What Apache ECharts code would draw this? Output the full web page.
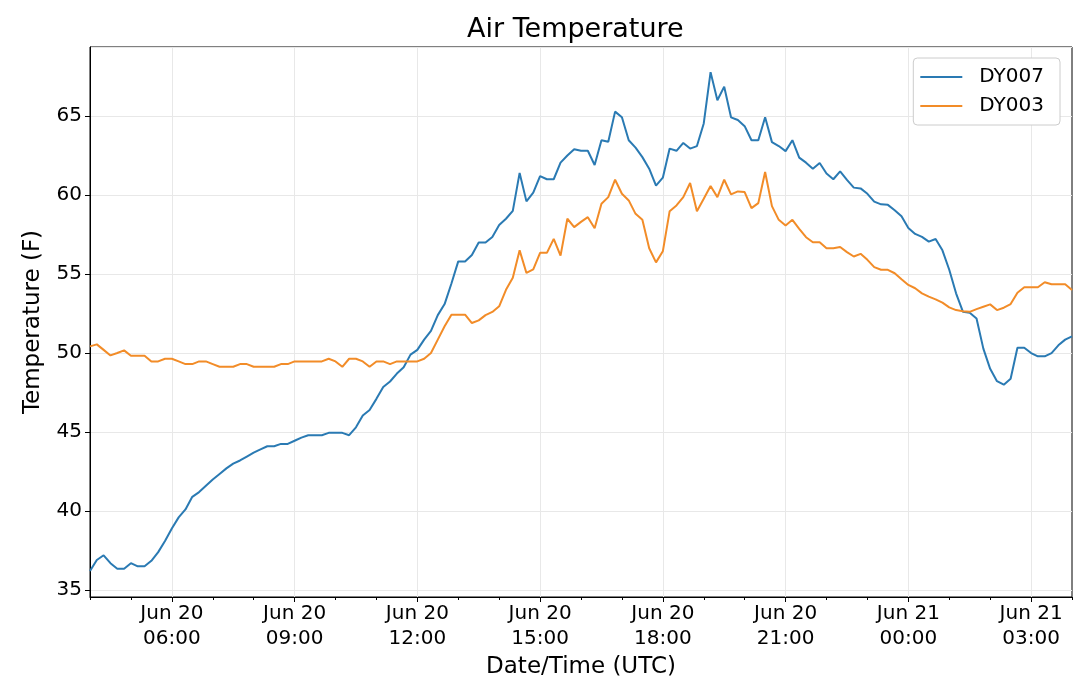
<!DOCTYPE html>
<html lang="en">
<head>
    <meta charset="UTF-8">
    <title>Air Temperature</title>
    <script src="https://cdn.jsdelivr.net/npm/echarts@6/dist/echarts.min.js"></script>
    <style>
      html, body { margin: 0; padding: 0; background: #fff; }
      #main { width: 1080px; height: 693px; }
    </style>
</head>
<body>
    <div id="main"></div>
    <script type="text/javascript">
      // 10-minute readings, Jun 20 04:00 -> Jun 21 04:00 (UTC)
      var dy007 = [
        36.2, 36.9, 37.2, 36.7, 36.35, 36.35, 36.7, 36.5, 36.5, 36.85,
        37.4, 38.1, 38.9, 39.6, 40.1, 40.9, 41.2, 41.6, 42.0, 42.35,
        42.7, 43.0, 43.2, 43.45, 43.7, 43.9, 44.1, 44.1, 44.25, 44.25,
        44.45, 44.65, 44.8, 44.8, 44.8, 44.95, 44.95, 44.95, 44.8, 45.3,
        46.05, 46.4, 47.1, 47.85, 48.2, 48.7, 49.1, 49.9, 50.2, 50.85,
        51.4, 52.4, 53.1, 54.4, 55.8, 55.8, 56.2, 57.0, 57.0, 57.35,
        58.1, 58.5, 59.0, 61.4, 59.6, 60.15, 61.2, 61.0, 61.0, 62.05,
        62.5, 62.9, 62.8, 62.8, 61.9, 63.47, 63.37, 65.28, 64.92, 63.47,
        63.0, 62.4, 61.67, 60.6, 61.1, 62.94, 62.8, 63.3, 62.94, 63.1,
        64.53, 67.78, 66.0, 66.86, 64.92, 64.75, 64.36, 63.47, 63.47, 64.92,
        63.35, 63.1, 62.78, 63.47, 62.37, 62.05, 61.67, 62.03, 61.36, 61.0,
        61.5, 60.96, 60.47, 60.42, 60.08, 59.58, 59.41, 59.38, 59.04, 58.66,
        57.92, 57.54, 57.35, 57.05, 57.22, 56.5, 55.27, 53.78, 52.62, 52.55,
        52.19, 50.28, 49.0, 48.22, 48.0, 48.37, 50.34, 50.34, 50.0, 49.79,
        49.79, 50.0, 50.49, 50.85, 51.06
      ];
      var dy003 = [
        50.42, 50.55, 50.2, 49.85, 50.0, 50.17, 49.83, 49.83, 49.83, 49.47,
        49.47, 49.64, 49.64, 49.47, 49.3, 49.3, 49.47, 49.47, 49.3, 49.13,
        49.13, 49.13, 49.3, 49.3, 49.13, 49.13, 49.13, 49.13, 49.3, 49.3,
        49.47, 49.47, 49.47, 49.47, 49.47, 49.64, 49.47, 49.13, 49.64, 49.64,
        49.47, 49.13, 49.47, 49.47, 49.3, 49.47, 49.47, 49.47, 49.47, 49.64,
        50.0, 50.85, 51.7, 52.43, 52.43, 52.43, 51.9, 52.07, 52.4, 52.6,
        52.96, 54.0, 54.76, 56.5, 55.07, 55.3, 56.34, 56.34, 57.23, 56.17,
        58.5, 57.97, 58.3, 58.6, 57.9, 59.45, 59.87, 60.97, 60.08, 59.66,
        58.81, 58.43, 56.63, 55.74, 56.44, 58.98, 59.34, 59.87, 60.76, 58.98,
        59.77, 60.57, 59.87, 60.97, 60.04, 60.23, 60.19, 59.17, 59.49, 61.46,
        59.3, 58.43, 58.07, 58.43, 57.86, 57.33, 57.01, 57.01, 56.63, 56.63,
        56.71, 56.39, 56.11, 56.28, 55.9, 55.44, 55.27, 55.27, 55.05, 54.67,
        54.31, 54.1, 53.78, 53.57, 53.4, 53.19, 52.89, 52.72, 52.65, 52.61,
        52.78, 52.93, 53.08, 52.72, 52.87, 53.1, 53.82, 54.16, 54.16, 54.16,
        54.48, 54.35, 54.35, 54.35, 53.99
      ];
      var seriesNames = ['DY007', 'DY003'];
      var startMinute = 4 * 60;   // Jun 20 04:00
      var stepMinute = 10;

      function pad(n) { return (n < 10 ? '0' : '') + n; }

      // x categories (time stamps)
      var times = [];
      for (var i = 0; i < dy007.length; i++) {
        var m = startMinute + i * stepMinute;
        var day = 20 + Math.floor(m / 1440);
        var hh = Math.floor((m % 1440) / 60);
        times.push('Jun ' + day + '\n' + pad(hh) + ':' + pad(m % 60));
      }
      function isMajor(idx) { return (startMinute + idx * stepMinute) % 180 === 0; }
      function isMinor(idx) { return (startMinute + idx * stepMinute) % 60 === 0; }

      var font = 'DejaVu Sans';
      var myChart = echarts.init(document.getElementById('main'));

      var option = {
        animation: false,
        backgroundColor: '#fff',
        textStyle: { fontFamily: font, color: '#000' },
        title: {
          text: 'Air Temperature',
          left: 467,
          top: 16,
          padding: 0,
          textStyle: { fontFamily: font, fontSize: 27, fontWeight: 'normal', color: '#000' }
        },
        legend: {
          orient: 'vertical',
          right: 20,
          top: 58,
          data: [
            { name: seriesNames[0], icon: 'rect' },
            { name: seriesNames[1], icon: 'rect' }
          ],
          itemWidth: 42,
          itemHeight: 2,
          itemGap: 9,
          padding: [9, 16, 9, 7],
          borderColor: '#cccccc',
          borderWidth: 1,
          borderRadius: 4,
          backgroundColor: '#fff',
          textStyle: { fontFamily: font, fontSize: 20, color: '#000', padding: [0, 0, 0, 12] }
        },
        grid: {
          left: 90,
          right: 8,
          top: 47,
          bottom: 96,
          show: true,
          borderColor: '#000',
          borderWidth: 1,
          backgroundColor: 'transparent'
        },
        xAxis: [
          {
            type: 'category',
            data: times,
            boundaryGap: false,
            name: 'Date/Time (UTC)',
            nameLocation: 'middle',
            nameGap: 51,
            nameTextStyle: { fontFamily: font, fontSize: 23, color: '#000' },
            axisLine: { lineStyle: { color: '#000', width: 1 } },
            axisTick: { interval: function (idx) { return isMajor(idx); }, length: 5, lineStyle: { color: '#000' } },
            axisLabel: {
              interval: function (idx) { return isMajor(idx); },
              fontFamily: font, fontSize: 20, lineHeight: 25, color: '#000', margin: 4
            },
            splitLine: { show: true, interval: function (idx) { return isMajor(idx); }, lineStyle: { color: '#e8e8e8', width: 1 } }
          },
          {
            // hourly minor ticks
            type: 'category',
            data: times,
            boundaryGap: false,
            position: 'bottom',
            axisLine: { show: false },
            axisTick: { interval: function (idx) { return isMinor(idx) && !isMajor(idx); }, length: 3, lineStyle: { color: '#000' } },
            axisLabel: { show: false },
            splitLine: { show: false }
          }
        ],
        yAxis: {
          type: 'value',
          min: 34.56,
          max: 69.37,
          splitNumber: 7,
          name: 'Temperature (F)',
          nameLocation: 'middle',
          nameGap: 45,
          nameTextStyle: { fontFamily: font, fontSize: 23, color: '#000' },
          axisLine: { show: true, lineStyle: { color: '#000', width: 1 } },
          axisTick: { show: true, length: 5, lineStyle: { color: '#000' } },
          axisLabel: { fontFamily: font, fontSize: 20, color: '#000', margin: 8, showMinLabel: false, showMaxLabel: false },
          splitLine: { show: true, lineStyle: { color: '#e8e8e8', width: 1 } }
        },
        series: [
          {
            name: seriesNames[0],
            type: 'line',
            data: dy007,
            showSymbol: false,
            color: '#2a7ab3',
            lineStyle: { color: '#2a7ab3', width: 2 }
          },
          {
            name: seriesNames[1],
            type: 'line',
            data: dy003,
            showSymbol: false,
            color: '#f28c28',
            lineStyle: { color: '#f28c28', width: 2 }
          }
        ]
      };
      myChart.setOption(option);
    </script>
</body>
</html>
